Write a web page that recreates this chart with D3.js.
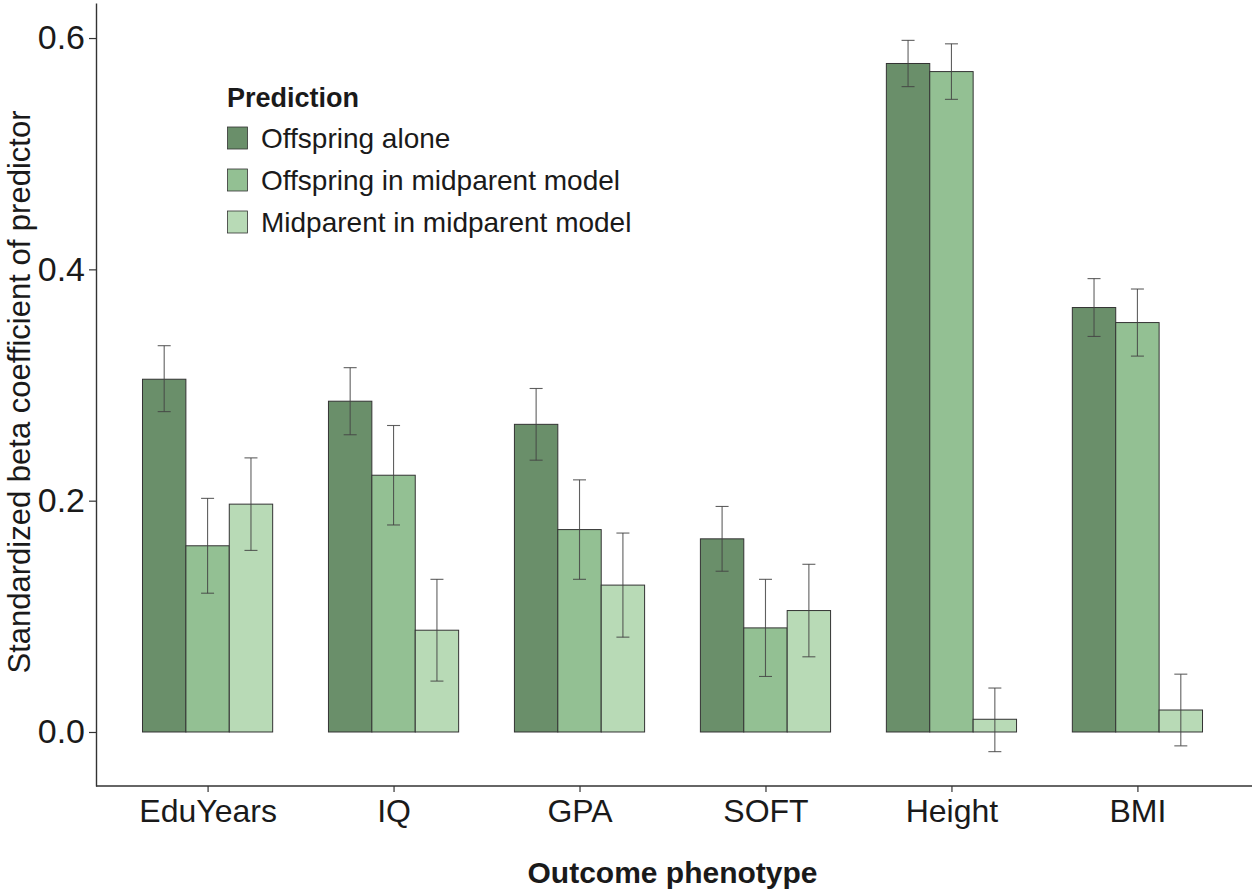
<!DOCTYPE html>
<html>
<head>
<meta charset="utf-8">
<script src="https://cdn.jsdelivr.net/npm/d3@7"></script>
<style>
  body { margin: 0; background: #fff; }
  text { font-family: "Liberation Sans", Arial, sans-serif; }
</style>
</head>
<body>
<svg id="chart" width="1252" height="893"></svg>
<script>
const categories = ["EduYears", "IQ", "GPA", "SOFT", "Height", "BMI"];
const series = ["Offspring alone", "Offspring in midparent model", "Midparent in midparent model"];
const colors = ["#6a8f6a", "#93c093", "#b8dab6"];

const offspringAlone      = [0.305, 0.286, 0.266, 0.167, 0.578, 0.367];
const offspringAloneLo    = [0.277, 0.257, 0.235, 0.139, 0.558, 0.342];
const offspringAloneHi    = [0.334, 0.315, 0.297, 0.195, 0.598, 0.392];

const offspringMid        = [0.161, 0.222, 0.175, 0.090, 0.571, 0.354];
const offspringMidLo      = [0.120, 0.179, 0.132, 0.048, 0.547, 0.325];
const offspringMidHi      = [0.202, 0.265, 0.218, 0.132, 0.595, 0.383];

const midparentMid        = [0.197, 0.088, 0.127, 0.105, 0.011, 0.019];
const midparentMidLo      = [0.157, 0.044, 0.082, 0.065, -0.017, -0.012];
const midparentMidHi      = [0.237, 0.132, 0.172, 0.145, 0.038, 0.050];

const yTicks = [0.0, 0.2, 0.4, 0.6];

const vals = [offspringAlone, offspringMid, midparentMid];
const los = [offspringAloneLo, offspringMidLo, midparentMidLo];
const his = [offspringAloneHi, offspringMidHi, midparentMidHi];

const data = [];
categories.forEach((c, i) => {
  series.forEach((s, j) => {
    data.push({cat: c, ser: s, j: j, v: vals[j][i], lo: los[j][i], hi: his[j][i]});
  });
});

const svg = d3.select("#chart");
const mLeft = 96, mRight = 1249, mTop = 3, mBottom = 786;

const y = d3.scaleLinear().domain([-0.0467, 0.6303]).range([mBottom, mTop]);
const step = (mRight - mLeft) / 6.2;
// category centers (ggplot-like discrete expansion of 0.6 on each side)
const xCat = d3.scalePoint().domain(categories)
  .range([mLeft + 0.6 * step, mRight - 0.6 * step]);
const groupW = 0.7 * step;
const xs = d3.scaleBand().domain(series).range([-groupW / 2, groupW / 2]);

// bars
svg.append("g").selectAll("rect").data(data).enter().append("rect")
  .attr("x", d => xCat(d.cat) + xs(d.ser))
  .attr("width", xs.bandwidth())
  .attr("y", d => y(Math.max(0, d.v)))
  .attr("height", d => Math.abs(y(d.v) - y(0)))
  .attr("fill", d => colors[d.j])
  .attr("stroke", "#333")
  .attr("stroke-width", 1);

// error bars
const cap = 6.5;
const eb = svg.append("g").attr("stroke", "#444").attr("stroke-width", 1.1).attr("stroke-opacity", 0.85);
data.forEach(d => {
  const cx = xCat(d.cat) + xs(d.ser) + xs.bandwidth() / 2;
  eb.append("line").attr("x1", cx).attr("x2", cx).attr("y1", y(d.lo)).attr("y2", y(d.hi));
  eb.append("line").attr("x1", cx - cap).attr("x2", cx + cap).attr("y1", y(d.lo)).attr("y2", y(d.lo));
  eb.append("line").attr("x1", cx - cap).attr("x2", cx + cap).attr("y1", y(d.hi)).attr("y2", y(d.hi));
});

// y axis
const yAxis = svg.append("g").attr("transform", `translate(${mLeft},0)`)
  .call(d3.axisLeft(y).tickValues(yTicks).tickFormat(d3.format(".1f")).tickSize(7).tickSizeOuter(0));
yAxis.select(".domain").attr("stroke", "#333").attr("stroke-width", 1.4);
yAxis.selectAll(".tick line").attr("stroke", "#333").attr("stroke-width", 1.2);
yAxis.selectAll(".tick text").attr("font-size", 34).attr("fill", "#1a1a1a")
  .attr("font-family", "Liberation Sans, Arial, sans-serif").attr("x", -11);

// x axis
const xAxis = svg.append("g").attr("transform", `translate(0,${mBottom})`)
  .call(d3.axisBottom(xCat).tickSize(6).tickSizeOuter(0));
xAxis.select(".domain").remove();
svg.append("line").attr("x1", mLeft).attr("x2", 1252).attr("y1", mBottom).attr("y2", mBottom)
  .attr("stroke", "#333").attr("stroke-width", 1.4);
xAxis.selectAll(".tick line").attr("stroke", "#333").attr("stroke-width", 1.2);
xAxis.selectAll(".tick text").attr("font-size", 32).attr("fill", "#1a1a1a")
  .attr("font-family", "Liberation Sans, Arial, sans-serif").attr("y", 36).attr("dy", 0);

// axis titles
svg.append("text").attr("x", (mLeft + mRight) / 2).attr("y", 883)
  .attr("text-anchor", "middle").attr("font-size", 30).attr("font-weight", "bold").attr("fill", "#1a1a1a")
  .text("Outcome phenotype");
svg.append("text").attr("transform", "translate(30,392) rotate(-90)")
  .attr("text-anchor", "middle").attr("font-size", 31).attr("fill", "#1a1a1a")
  .text("Standardized beta coefficient of predictor");

// legend
const lg = svg.append("g").attr("transform", "translate(227,0)");
lg.append("text").attr("x", 0).attr("y", 107).attr("font-size", 27).attr("font-weight", "bold")
  .attr("fill", "#1a1a1a").text("Prediction");
series.forEach((s, j) => {
  const cy = 138 + j * 42;
  lg.append("rect").attr("x", 0.5).attr("y", cy - 11).attr("width", 20).attr("height", 22)
    .attr("fill", colors[j]).attr("stroke", "#333").attr("stroke-width", 0.8);
  lg.append("text").attr("x", 34).attr("y", cy + 10).attr("font-size", 28).attr("fill", "#1a1a1a").text(s);
});
</script>
</body>
</html>
